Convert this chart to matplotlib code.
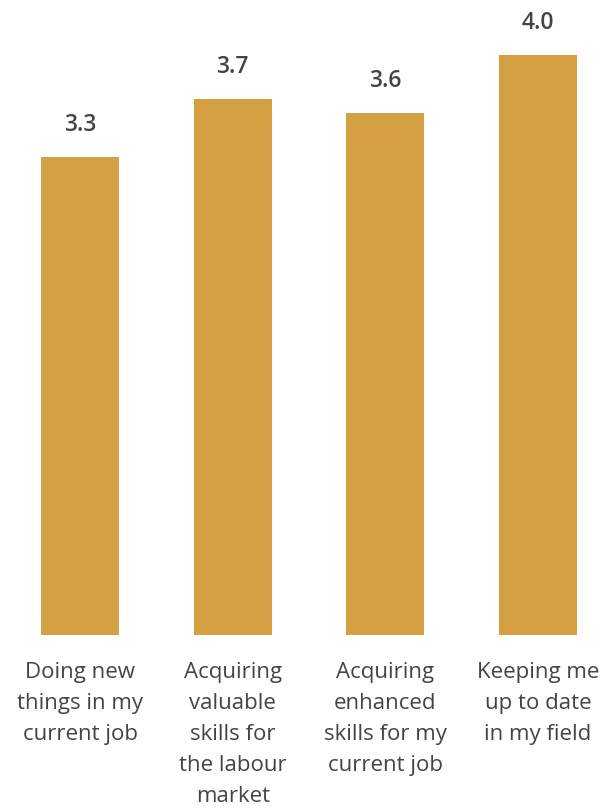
import matplotlib
matplotlib.use("Agg")
import matplotlib.pyplot as plt
from matplotlib.transforms import blended_transform_factory

categories = [
    "Doing new\nthings in my\ncurrent job",
    "Acquiring\nvaluable\nskills for\nthe labour\nmarket",
    "Acquiring\nenhanced\nskills for my\ncurrent job",
    "Keeping me\nup to date\nin my field",
]
values = [3.3, 3.7, 3.6, 4.0]

BAR_COLOR = "#D4A042"
TEXT_COLOR = "#444444"
FONT = ["Open Sans", "DejaVu Sans"]

W, H = 612, 808
fig = plt.figure(figsize=(W / 100, H / 100), dpi=100)
ax = fig.add_axes([0, 173 / H, 1, 623.5 / H])

x = list(range(len(values)))
ax.bar(x, values, width=0.51, color=BAR_COLOR)
ax.set_xlim(-0.524, 3.484)
ax.set_ylim(0, 4.3)
ax.axis("off")

for xi, v in zip(x, values):
    ax.annotate(f"{v:.1f}", (xi, v), xytext=(0, 23), textcoords="offset points",
                ha="center", va="center", fontsize=16.5, fontweight="semibold",
                color=TEXT_COLOR, family=FONT)

trans = blended_transform_factory(ax.transData, ax.transAxes)
for xi, lab in zip(x, categories):
    ax.annotate(lab, (xi, 0), xycoords=trans, xytext=(0, -19.5), textcoords="offset points",
                ha="center", va="top", fontsize=16, color=TEXT_COLOR,
                family=FONT, linespacing=1.62)

fig.savefig("out.png", dpi=100)
